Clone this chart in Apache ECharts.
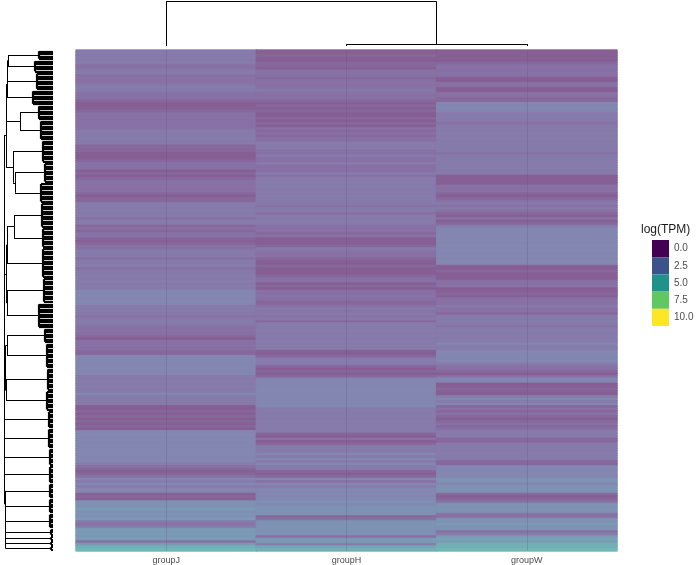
<!DOCTYPE html>
<html>
<head>
<meta charset="utf-8">
<script src="https://cdn.jsdelivr.net/npm/echarts@6/dist/echarts.min.js"></script>
<style>
  html, body { margin: 0; padding: 0; background: #fff; }
  #main { width: 700px; height: 565px; }
</style>
</head>
<body>
<div id="main"></div>
<script>
const groups = ["groupJ", "groupH", "groupW"];

// one character per row, top to bottom; the digit is an expression level (see levelValues)
const rowsJ = [
    "3333332233222233322210001222222233333311",
    "1000122201012222210113333332331212210122",
    "3332333233333333444444333323332222102222",
    "1144444444333333343333001010101044444444",
    "4444432101243434401055565556323666662689",
].join("");
const rowsH = [
    "0010011022212222322210101001010212122333",
    "2232232223233333333333233233332221200013",
    "2221001000122010222211232323133333333333",
    "0013331010144444444444433333333331020133",
    "3434343310142434444454555512555555266378",
].join("");
const rowsW = [
    "0000012222200220022114444333323333333333",
    "3233333333000022210123232102013444444444",
    "4444440010002220010222322133332333333433",
    "4444432210244001003434121210121233311333",
    "3333114444455455510125555225565523676889",
].join("");
const levelValues = [0.2, 0.6, 1.0, 1.5, 2.1, 2.7, 3.2, 3.8, 4.4, 5.0];

const legendValues = [0, 2.5, 5, 7.5, 10];
const viridis = ["#440154", "#482475", "#414487", "#355F8D", "#2A788E", "#21918C",
                 "#22A884", "#44BF70", "#7AD151", "#BDDF26", "#FDE725"];

// row dendrogram: leaf clusters [firstRow, lastRow, height] and merges [a, b, height]
const rowClusters = [
    [0, 3, 14], [4, 8, 18], [9, 15, 16], [16, 21, 20], [22, 27, 14], [28, 35, 12],
    [36, 44, 10], [45, 52, 8], [53, 60, 12], [61, 70, 11], [71, 78, 10], [79, 90, 10],
    [91, 100, 9], [101, 110, 14], [111, 116, 8], [117, 126, 6], [127, 135, 5], [136, 143, 6],
    [144, 150, 4], [151, 158, 4], [159, 165, 3], [166, 172, 3], [173, 178, 3], [179, 184, 3],
    [185, 190, 3], [191, 193, 2], [194, 195, 2], [196, 197, 2], [198, 199, 2],
];
const rowMerges = [
    ["c0", "c1", 45], ["m0", "c2", 45.5], ["m1", "c3", 46], ["c4", "c5", 33],
    ["m2", "m3", 46.5], ["c7", "c8", 38], ["c6", "m5", 40], ["m4", "m6", 47],
    ["c9", "c10", 39], ["m8", "c11", 46], ["c12", "c13", 46.2], ["m9", "m10", 46.4],
    ["c14", "c15", 46], ["c16", "c17", 47], ["m12", "m13", 47.5],
    ["c28", "c27", 47.6], ["m15", "c26", 47.7], ["m16", "c25", 47.8], ["m17", "c24", 48],
    ["m18", "c23", 48.1], ["m19", "c22", 48.2], ["m20", "c21", 48.3], ["m21", "c20", 48.4],
    ["m22", "c19", 48.5], ["m23", "c18", 48.6], ["m14", "m24", 48.7], ["m11", "m25", 48.8],
    ["m7", "m26", 49],
];
const rowTreeMax = 49;

// column dendrogram: leaves are the columns
const colMerges = [["c1", "c2", 0.3], ["c0", "m0", 7]];
const colTreeMax = 7;

const columns = [rowsJ, rowsH, rowsW];
const nRows = Math.max(...columns.map(s => s.length));
const rowNames = [];
for (let i = 0; i < nRows; i++) rowNames.push("gene" + (i + 1));

// heatmap cells are drawn as viridis washed out over white
const cellAlpha = 0.65;
function washed(hex) {
    const n = parseInt(hex.slice(1), 16);
    const ch = [(n >> 16) & 255, (n >> 8) & 255, n & 255]
        .map(c => Math.round(c * cellAlpha + 255 * (1 - cellAlpha)));
    return "rgb(" + ch.join(",") + ")";
}
const heatColors = viridis.map(washed);

function lerpColor(t, colors) {
    if (echarts.color && echarts.color.lerp) return echarts.color.lerp(t, colors);
    return colors[Math.round(t * (colors.length - 1))];
}

const heatData = [];
columns.forEach((codes, x) => {
    for (let r = 0; r < codes.length; r++) {
        const v = levelValues[Number(codes[r])];
        heatData.push({
            value: [x, r, v],
            // border in the cell's own colour hides sub-pixel seams between rows
            itemStyle: { borderColor: lerpColor(v / 10, heatColors), borderWidth: 0.8 },
        });
    }
});

// walk a merge list, give back segments as [[height, pos], [height, pos]]
function treeSegments(leaves, merges) {
    const segs = [];
    const nodes = {};
    leaves.forEach((lf, i) => { nodes["c" + i] = lf; });
    merges.forEach(([a, b, h], i) => {
        const A = nodes[a], B = nodes[b];
        segs.push([[A.h, A.pos], [h, A.pos]]);
        segs.push([[B.h, B.pos], [h, B.pos]]);
        segs.push([[h, A.pos], [h, B.pos]]);
        nodes["m" + i] = { pos: (A.pos + B.pos) / 2, h: h };
    });
    return segs;
}

const rowLeaves = [];
const leafSegs = [];
rowClusters.forEach(([s, e, h]) => {
    for (let r = s; r <= e; r++) leafSegs.push([[0, r], [h, r]]);
    leafSegs.push([[h, s], [h, e]]);
    rowLeaves.push({ pos: (s + e) / 2, h: h });
});
const branchSegs = treeSegments(rowLeaves, rowMerges);

const colSegs = treeSegments(groups.map((g, i) => ({ pos: i, h: 0 })), colMerges);

const legendTop = 240, blockH = 17.2;
const graphic = [{
    type: "text", x: 641, y: 230,
    style: { text: "log(TPM)", font: '12px "Liberation Sans", Arial, sans-serif', fill: "#1a1a1a", verticalAlign: "middle" },
}];
legendValues.forEach((v, i) => {
    graphic.push({
        type: "rect",
        shape: { x: 652, y: legendTop + i * blockH, width: 17, height: blockH },
        style: { fill: lerpColor(v / 10, viridis) },
    });
    graphic.push({
        type: "text", x: 674, y: legendTop + i * blockH + blockH / 2,
        style: { text: v.toFixed(1), font: '10px "Liberation Sans", Arial, sans-serif', fill: "#4d4d4d", verticalAlign: "middle" },
    });
});

const chart = echarts.init(document.getElementById("main"));

const option = {
    animation: false,
    backgroundColor: "#fff",
    grid: [
        { left: 76, right: 83, top: 50, bottom: 14 },
        { left: 76, right: 83, top: 1.5, height: 44.5 },
        { left: 4, width: 49, top: 50, bottom: 14 },
    ],
    xAxis: [
        {
            type: "category", data: groups, gridIndex: 0,
            axisLine: { show: false }, axisTick: { show: false }, splitLine: { show: false },
            axisLabel: { color: "#4d4d4d", fontSize: 9, margin: 5, fontFamily: '"Liberation Sans", Arial, sans-serif' },
        },
        { type: "value", gridIndex: 1, min: -0.5, max: groups.length - 0.5, show: false },
        { type: "value", gridIndex: 2, min: 0, max: rowTreeMax, inverse: true, show: false },
    ],
    yAxis: [
        { type: "category", data: rowNames, gridIndex: 0, inverse: true, show: false },
        { type: "value", gridIndex: 1, min: 0, max: colTreeMax, show: false },
        { type: "value", gridIndex: 2, min: -0.5, max: nRows - 0.5, inverse: true, show: false },
    ],
    visualMap: {
        type: "continuous", show: false, seriesIndex: 0, dimension: 2,
        min: 0, max: 10, inRange: { color: heatColors },
    },
    graphic: graphic,
    series: [
        {
            type: "heatmap",
            xAxisIndex: 0, yAxisIndex: 0,
            data: heatData,
            emphasis: { disabled: true },
            silent: true,
            markLine: {
                silent: true, symbol: "none", label: { show: false },
                lineStyle: { color: "#5f4f7d", width: 1, type: "solid", opacity: 0.25 },
                data: groups.map(g => ({ xAxis: g })),
            },
        },
        {
            type: "lines", coordinateSystem: "cartesian2d",
            xAxisIndex: 1, yAxisIndex: 1, silent: true,
            lineStyle: { color: "#000", width: 1, opacity: 1 },
            data: colSegs.map(([p, q]) => ({ coords: [[p[1], p[0]], [q[1], q[0]]] })),
        },
        {
            type: "lines", coordinateSystem: "cartesian2d",
            xAxisIndex: 2, yAxisIndex: 2, silent: true,
            lineStyle: { color: "#000", width: 2.2, opacity: 1 },
            data: leafSegs.map(([p, q]) => ({ coords: [p, q] })),
        },
        {
            type: "lines", coordinateSystem: "cartesian2d",
            xAxisIndex: 2, yAxisIndex: 2, silent: true,
            lineStyle: { color: "#000", width: 1, opacity: 1 },
            data: branchSegs.map(([p, q]) => ({ coords: [p, q] })),
        },
    ],
};

chart.setOption(option);
</script>
</body>
</html>
